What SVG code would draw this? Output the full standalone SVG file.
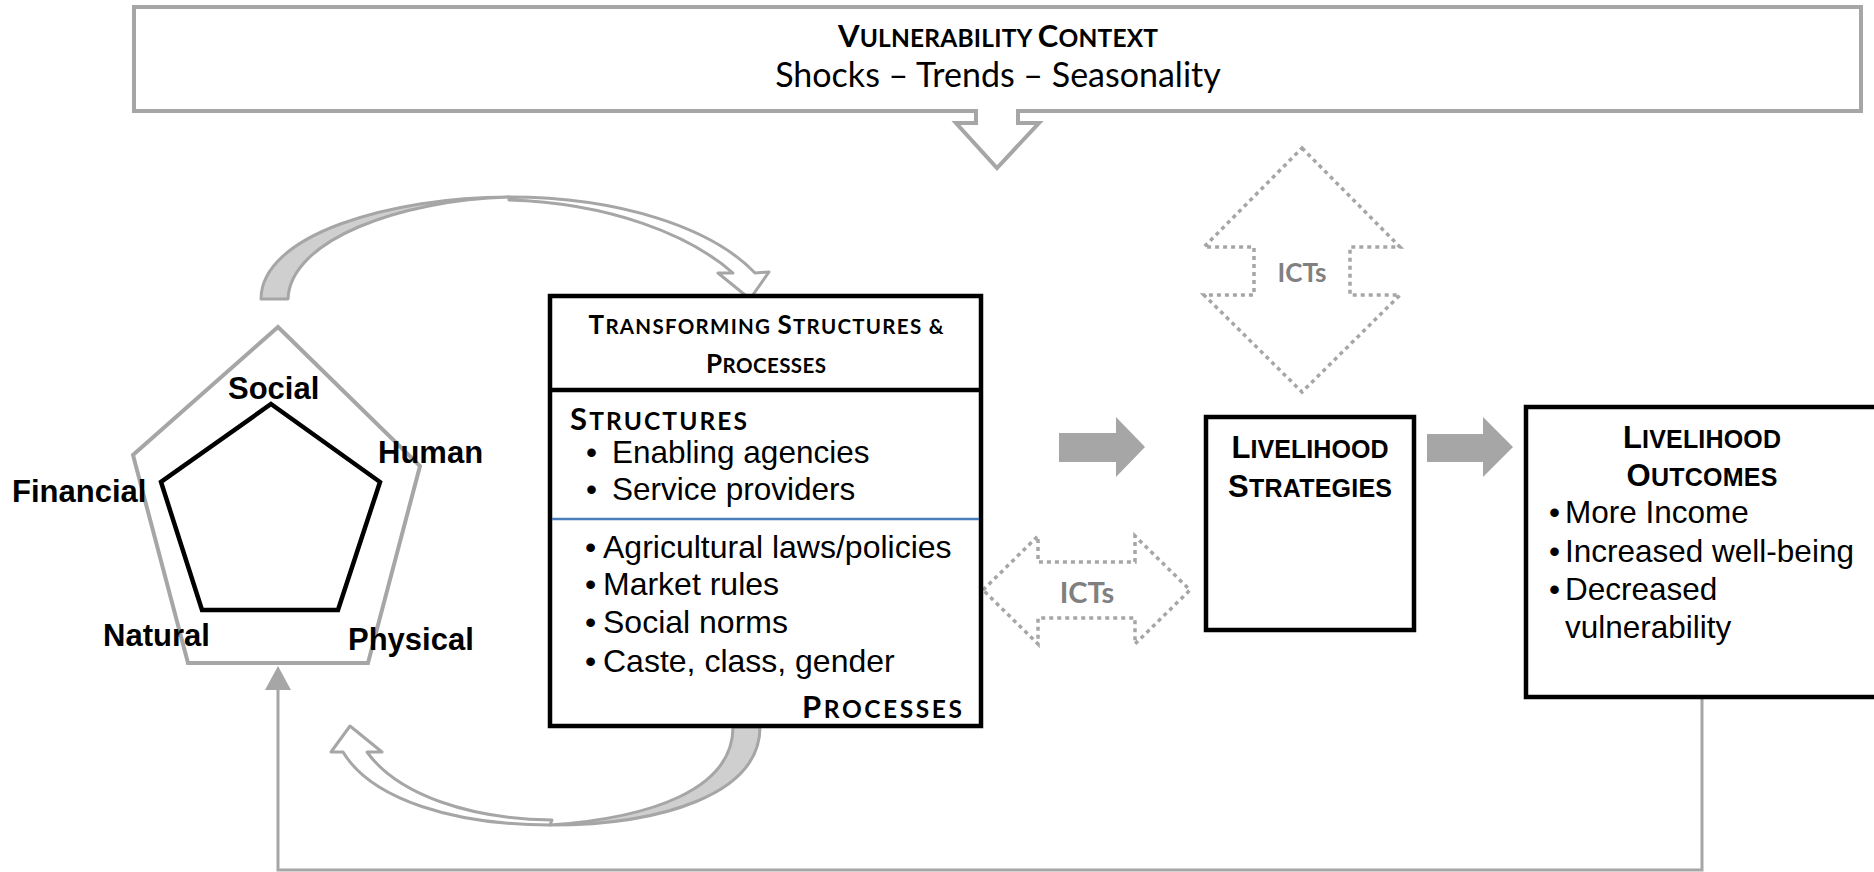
<svg xmlns="http://www.w3.org/2000/svg" width="1874" height="872" viewBox="0 0 1874 872">
<style>
.gbox{fill:#fff;stroke:#a6a6a6;stroke-width:4;stroke-linejoin:miter}
.bbox{fill:#fff;stroke:#000;stroke-width:4.5}
.cal{font-family:Lato,"Open Sans",sans-serif}
.ar{font-family:"Liberation Sans",Arial,sans-serif}
.b{font-weight:bold}
.solid{fill:#a6a6a6;stroke:none}
.dot{fill:none;stroke:#a6a6a6;stroke-width:3.5;stroke-dasharray:4 4}
.ict{font-family:Lato,"Open Sans",sans-serif;font-weight:bold;fill:#808080}
.curve{fill:#fff;stroke:#a6a6a6;stroke-width:3;stroke-linejoin:round}
.shade{fill:#cfcfcf;stroke:#a6a6a6;stroke-width:3;stroke-linejoin:round}
.line{fill:none;stroke:#a6a6a6;stroke-width:3}
</style>

<g id="vulnerability-context">
<path class="gbox" d="M134 7 H1861 V111 H1018 V123 H1039 L997 168 L956 123 H976 V111 H134 Z"/>
<text class="cal b" x="998" y="47" text-anchor="middle" textLength="320" font-size="24.5"><tspan font-size="31">V</tspan>ULNERABILITY <tspan font-size="31">C</tspan>ONTEXT</text>
<text class="cal" x="998" y="87" text-anchor="middle" font-size="34">Shocks – Trends – Seasonality</text>
</g>

<g id="connectors">
<path class="shade" d="M261 299 C261 235 390 197 509 197 C400 200 290 240 288 299 Z"/>
<path class="curve" d="M509 197 C620 197 712 228 755 273 L769 272 L750 299 L718 273 L733 273 C690 235 610 203 509 200 Z"/>
<path class="curve" d="M550 825 C455 825 372 800 343 752 L331 752 L350 726 L382 752 L367 752 C398 795 470 819 552 820 Z"/>
<path class="shade" d="M760 727 C760 795 660 825 550 825 C650 818 733 790 733 727 Z"/>
<path class="solid" d="M1059 433 H1116 V417 L1145 447 L1116 477 V462 H1059 Z"/>
<path class="solid" d="M1427 434 H1483 V417 L1513 447 L1483 477 V462 H1427 Z"/>
<path class="dot" d="M1302 148 L1400 247 L1350 247 L1350 295 L1400 295 L1302 392 L1204 295 L1254 295 L1254 247 L1204 247 Z"/>
<path class="dot" d="M983 590 L1038 536 L1038 562 L1135 562 L1135 536 L1190 590 L1135 644 L1135 618 L1038 618 L1038 644 Z"/>
<polyline class="line" points="1702,697 1702,870 278,870 278,688"/>
<polygon class="solid" points="265,690 291,690 278,666"/>
</g>

<g id="ict-labels">
<text class="ict" x="1302" y="282" text-anchor="middle" font-size="26">ICTs</text>
<text class="ict" x="1087" y="603" text-anchor="middle" font-size="29">ICTs</text>
</g>

<g id="livelihood-assets">
<polygon points="278,327 420,466 368,663 188,663 133,455" fill="#fff" stroke="#a6a6a6" stroke-width="4"/>
<polygon points="271,404 380,482 338,610 202,610 161,482" fill="none" stroke="#000" stroke-width="4.5"/>
<g class="ar b" font-size="31">
<text x="228" y="399">Social</text>
<text x="378" y="463">Human</text>
<text x="12" y="502">Financial</text>
<text x="103" y="646">Natural</text>
<text x="348" y="650">Physical</text>
</g>
</g>

<g id="transforming-structures">
<rect class="bbox" x="550" y="296" width="431" height="430"/>
<line x1="550" y1="390" x2="981" y2="390" stroke="#000" stroke-width="4.5"/>
<line x1="552" y1="519" x2="979" y2="519" stroke="#4a7ebb" stroke-width="2.5"/>
<text class="cal b" x="766" y="334" text-anchor="middle" textLength="355" font-size="20.5"><tspan font-size="26">T</tspan>RANSFORMING <tspan font-size="26">S</tspan>TRUCTURES &amp;</text>
<text class="cal b" x="766" y="373" text-anchor="middle" textLength="120" font-size="20.5"><tspan font-size="26">P</tspan>ROCESSES</text>
<text class="cal b" x="570" y="430" textLength="177" font-size="24.5"><tspan font-size="31">S</tspan>TRUCTURES</text>
<g class="ar" font-size="31.5">
<text x="586" y="463">•</text><text x="612" y="463">Enabling agencies</text>
<text x="586" y="500">•</text><text x="612" y="500">Service providers</text>
</g>
<g class="ar" font-size="32">
<text x="585" y="558">•</text><text x="603" y="558">Agricultural laws/policies</text>
<text x="585" y="595">•</text><text x="603" y="595">Market rules</text>
<text x="585" y="633">•</text><text x="603" y="633">Social norms</text>
<text x="585" y="672">•</text><text x="603" y="672">Caste, class, gender</text>
</g>
<text class="cal b" x="962" y="718" text-anchor="end" textLength="160" font-size="24.5"><tspan font-size="31">P</tspan>ROCESSES</text>
</g>

<g id="livelihood-strategies">
<rect class="bbox" x="1206" y="417" width="208" height="213"/>
<text class="ar b" x="1310" y="458" text-anchor="middle" textLength="157" font-size="25"><tspan font-size="31">L</tspan>IVELIHOOD</text>
<text class="ar b" x="1310" y="497" text-anchor="middle" textLength="164" font-size="25"><tspan font-size="31">S</tspan>TRATEGIES</text>
</g>

<g id="livelihood-outcomes">
<rect class="bbox" x="1526" y="407" width="400" height="290"/>
<text class="ar b" x="1702" y="448" text-anchor="middle" textLength="158" font-size="25"><tspan font-size="31">L</tspan>IVELIHOOD</text>
<text class="ar b" x="1702" y="486" text-anchor="middle" textLength="151" font-size="25"><tspan font-size="31">O</tspan>UTCOMES</text>
<g class="ar" font-size="31.5">
<text x="1549" y="523">•</text><text x="1565" y="523">More Income</text>
<text x="1549" y="562">•</text><text x="1565" y="562">Increased well-being</text>
<text x="1549" y="600">•</text><text x="1565" y="600">Decreased</text>
<text x="1565" y="638">vulnerability</text>
</g>
</g>
</svg>
